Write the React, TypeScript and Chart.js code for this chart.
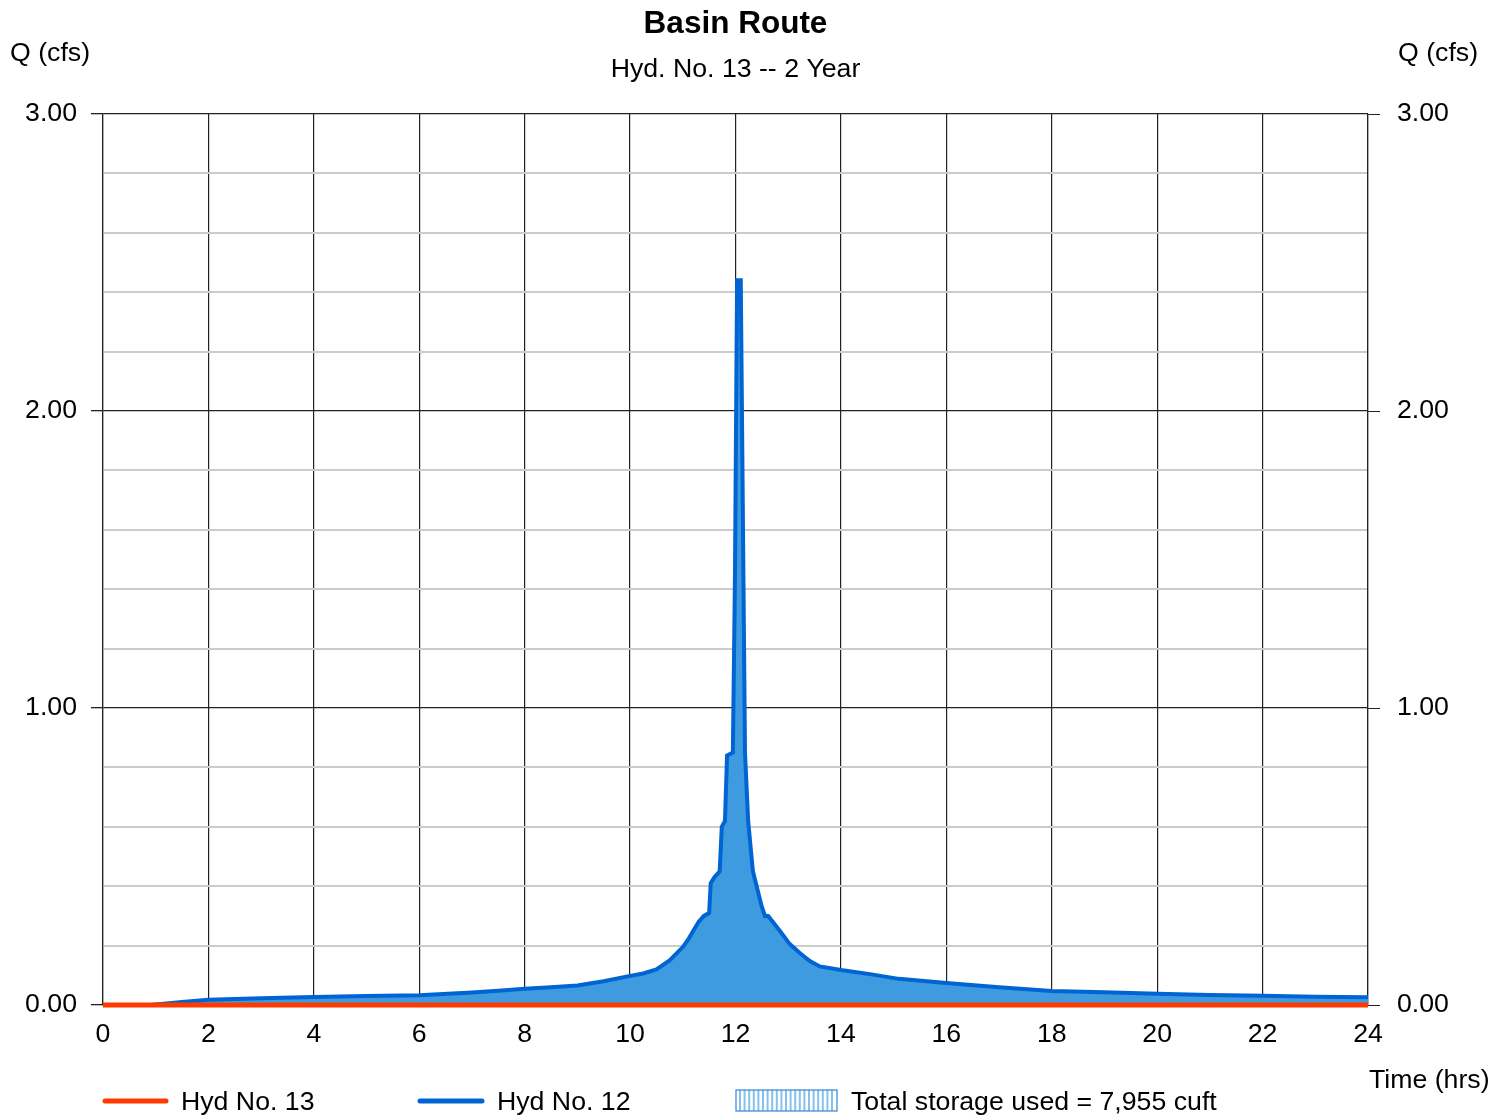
import React, { useEffect, useRef } from "react";
import { Chart, registerables } from "chart.js";

Chart.register(...registerables);

const TITLE = "Basin Route";
const SUBTITLE = "Hyd. No. 13 -- 2 Year";
const Y_LABEL = "Q (cfs)";
const X_LABEL = "Time (hrs)";

const HYD12_TIME = [
  0, 0.9, 1.5, 2.0, 3.0, 4.0, 5.0, 6.0, 7.0, 7.5, 8.0, 8.5, 9.0, 9.5, 10.0, 10.25, 10.5,
  10.75, 11.0, 11.1, 11.2, 11.3, 11.4, 11.5, 11.53, 11.6, 11.7, 11.74, 11.8, 11.84, 11.95,
  11.99, 12.03, 12.1, 12.18, 12.24, 12.33, 12.5, 12.56, 12.62, 12.84, 13.03, 13.22, 13.41,
  13.6, 14.0, 14.55, 15.1, 16.0, 17.0, 18.0, 19.0, 20.0, 21.0, 22.0, 23.0, 24.0,
];
const HYD12_Q = [
  0, 0, 0.01, 0.018, 0.023, 0.027, 0.03, 0.033, 0.042, 0.048, 0.055, 0.06, 0.066, 0.08, 0.098,
  0.106, 0.12, 0.15, 0.195, 0.22, 0.25, 0.28, 0.3, 0.31, 0.41, 0.43, 0.45, 0.6, 0.62, 0.84,
  0.85, 1.45, 2.44, 2.44, 0.85, 0.62, 0.45, 0.33, 0.3, 0.3, 0.25, 0.205, 0.175, 0.148, 0.13,
  0.118, 0.104, 0.088, 0.074, 0.06, 0.047, 0.043, 0.038, 0.034, 0.031, 0.028, 0.026,
];
const HYD13_TIME = [0, 24];
const HYD13_Q = [0, 0];

const LEGEND_HYD13 = "Hyd No. 13";
const LEGEND_HYD12 = "Hyd No. 12";
const LEGEND_STORAGE = "Total storage used = 7,955 cuft";

const FONT = "'Liberation Sans', Arial, sans-serif";
const FS = 26.7;
const RED = "#ff3a00";
const BLUE = "#0064d2";
const FILL = "#3f9be0";

const textPlugin = {
  id: "customText",
  afterDraw(chart: any) {
    const ctx = chart.ctx;
    const ca = chart.chartArea;
    ctx.save();
    ctx.fillStyle = "#000";
    ctx.textBaseline = "middle";
    ctx.textAlign = "center";
    const cx = (ca.left + ca.right) / 2;
    ctx.font = `bold 31.5px ${FONT}`;
    ctx.fillText(TITLE, cx, 24);
    ctx.font = `${FS}px ${FONT}`;
    ctx.fillText(SUBTITLE, cx, 70);
    ctx.textAlign = "left";
    ctx.fillText(Y_LABEL, 10, 54);
    ctx.fillText(Y_LABEL, 1398, 54);
    ctx.fillText(X_LABEL, 1369, 1081);

    // legend
    const ly = 1101;
    const ty = 1103;
    ctx.lineCap = "round";
    ctx.lineWidth = 5;
    ctx.strokeStyle = RED;
    ctx.beginPath();
    ctx.moveTo(105, ly);
    ctx.lineTo(166, ly);
    ctx.stroke();
    ctx.fillText(LEGEND_HYD13, 181, ty);
    ctx.strokeStyle = BLUE;
    ctx.beginPath();
    ctx.moveTo(420, ly);
    ctx.lineTo(482, ly);
    ctx.stroke();
    ctx.fillText(LEGEND_HYD12, 497, ty);

    // storage swatch
    const bx = 736, by = 1090, bw = 101, bh = 21;
    ctx.fillStyle = "#ffffff";
    ctx.fillRect(bx, by, bw, bh);
    ctx.lineCap = "butt";
    ctx.strokeStyle = "#86c0ec";
    ctx.lineWidth = 2;
    for (let x = bx + 4; x < bx + bw - 1; x += 4.6) {
      ctx.beginPath();
      ctx.moveTo(x, by);
      ctx.lineTo(x, by + bh);
      ctx.stroke();
    }
    ctx.strokeStyle = "#3f8fd8";
    ctx.lineWidth = 1.3;
    ctx.strokeRect(bx, by, bw, bh);
    ctx.fillStyle = "#000";
    ctx.fillText(LEGEND_STORAGE, 851, ty);
    ctx.restore();
  },
};

export default function App() {
  const ref = useRef<HTMLCanvasElement>(null);
  useEffect(() => {
    if (!ref.current) return;
    const isMajor = (v: number) => Math.abs(v - Math.round(v)) < 1e-6;
    const chart = new Chart(ref.current, {
      type: "line",
      data: {
        datasets: [
          {
            label: LEGEND_HYD13,
            data: HYD13_TIME.map((t, i) => ({ x: t, y: HYD13_Q[i] })),
            borderColor: RED,
            borderWidth: 5,
            pointRadius: 0,
            fill: false,
            clip: false,
            yAxisID: "y",
          },
          {
            label: LEGEND_HYD12,
            data: HYD12_TIME.map((t, i) => ({ x: t, y: HYD12_Q[i] })),
            borderColor: BLUE,
            backgroundColor: FILL,
            borderWidth: 4,
            pointRadius: 0,
            fill: "origin",
            tension: 0,
            clip: false,
            yAxisID: "y",
          },
        ],
      },
      options: {
        animation: false,
        responsive: true,
        maintainAspectRatio: false,
        layout: { padding: { top: 114, bottom: 61, left: 0, right: 0 } },
        plugins: {
          legend: { display: false },
          title: { display: false },
          tooltip: { enabled: false },
        },
        scales: {
          x: {
            type: "linear",
            min: 0,
            max: 24,
            ticks: {
              stepSize: 2,
              color: "#000",
              font: { family: FONT, size: FS },
              padding: 14,
              maxRotation: 0,
            },
            grid: { color: "#222", lineWidth: 1.2, drawTicks: false },
            border: { color: "#222", width: 1.2 },
            afterFit: (s: any) => {
              s.height = 50;
            },
          },
          y: {
            position: "left",
            min: 0,
            max: 3,
            ticks: {
              stepSize: 0.2,
              color: "#000",
              font: { family: FONT, size: FS },
              padding: 14,
              callback: (v: any) => (isMajor(Number(v)) ? Number(v).toFixed(2) : ""),
            },
            grid: {
              color: (c: any) => (isMajor(c.tick.value) ? "#222" : "#cccccc"),
              lineWidth: (c: any) => (isMajor(c.tick.value) ? 1.3 : 2),
              tickColor: (c: any) => (isMajor(c.tick.value) ? "#222" : "rgba(0,0,0,0)"),
              tickLength: 12,
            },
            border: { color: "#222", width: 1.2 },
            afterFit: (s: any) => {
              s.width = 103;
            },
          },
          y2: {
            position: "right",
            min: 0,
            max: 3,
            ticks: {
              stepSize: 0.2,
              color: "#000",
              font: { family: FONT, size: FS },
              padding: 17,
              callback: (v: any) => (isMajor(Number(v)) ? Number(v).toFixed(2) : ""),
            },
            grid: {
              drawOnChartArea: false,
              tickColor: (c: any) => (isMajor(c.tick.value) ? "#222" : "rgba(0,0,0,0)"),
              tickLength: 12,
            },
            border: { color: "#222", width: 1.2 },
            afterFit: (s: any) => {
              s.width = 138;
            },
          },
        },
      },
      plugins: [textPlugin],
    } as any);
    return () => chart.destroy();
  }, []);
  return (
    <div style={{ position: "fixed", left: 0, top: 0, width: 1506, height: 1116, background: "#fff" }}>
      <canvas ref={ref} />
    </div>
  );
}
